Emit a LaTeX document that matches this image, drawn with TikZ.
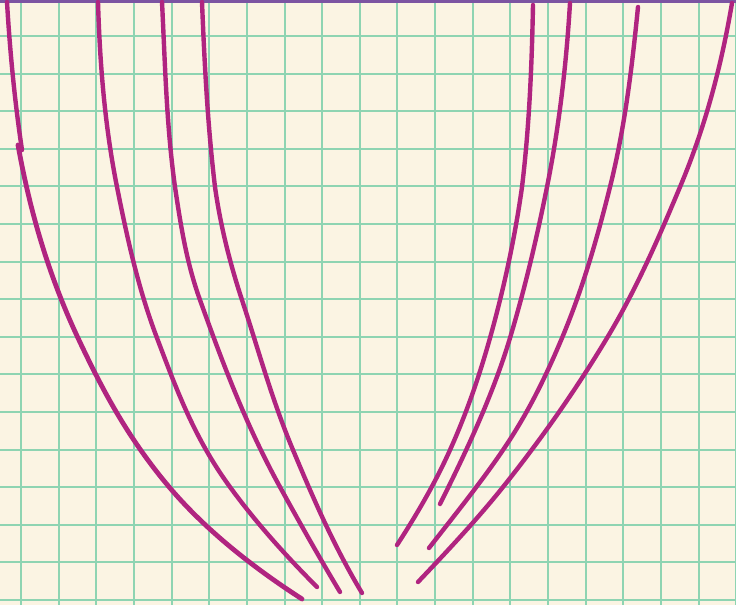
\documentclass[tikz,border=0pt]{standalone}
\definecolor{paper}{HTML}{FBF4E3}
\definecolor{gridgreen}{HTML}{8ED4B2}
\definecolor{ink}{HTML}{B02480}
\definecolor{topline}{HTML}{7C54A2}
\tikzset{
  gridline/.style={draw=gridgreen, line width=2pt},
  curve/.style={draw=ink, line width=4.4pt, line cap=round, line join=round},
}
\begin{document}
\begin{tikzpicture}[x=1pt,y=-1pt]
\useasboundingbox (0,0) rectangle (736,605);
\fill[paper] (0,0) rectangle (736,605);
% grid
\foreach \k in {0,...,19} {
  \pgfmathsetmacro{\gx}{round(21+37.65*\k)}
  \draw[gridline] (\gx,0) -- (\gx,605);
}
\foreach \k in {0,...,15} {
  \pgfmathsetmacro{\gy}{round(36+37.6*\k)}
  \draw[gridline] (0,\gy) -- (736,\gy);
}
% top border
\draw[topline, line width=4pt] (0,1) -- (736,1);
% left curves
\draw[curve] (7,2) .. controls (9.96,51.33) and (14.6,100.67) .. (22,150);
\draw[curve, line width=4.8pt] (18,145) .. controls (29.6,209.3) and (47.8,273.7) .. (78,338)
  .. controls (101.5,388) and (127.5,438) .. (170,488)
  .. controls (201.5,525) and (244.6,562) .. (302,599);
\draw[curve] (98,2) .. controls (99.85,63.67) and (104.7,125.3) .. (117,187)
  .. controls (127.1,237.3) and (137.9,287.7) .. (157,338)
  .. controls (175.9,387.7) and (193.7,437.3) .. (230,487)
  .. controls (254.3,520.3) and (283.7,553.7) .. (317,587);
\draw[curve] (162,2) .. controls (165.1,63.67) and (166.4,125.3) .. (175,187)
  .. controls (180.65,224.67) and (186.4,262.3) .. (200,300)
  .. controls (222.4,362.3) and (245.7,424.7) .. (280,487)
  .. controls (299.25,522) and (319,557) .. (340,592);
\draw[curve] (202,2) .. controls (204.5,63.67) and (207.6,125.3) .. (215,187)
  .. controls (220.3,224.67) and (229.6,262.3) .. (242,300)
  .. controls (258.5,350) and (272,400) .. (293,450)
  .. controls (313,497.67) and (333.4,545.3) .. (362,593);
% right curves
\draw[curve] (533,5) .. controls (531.8,65.67) and (529.3,126.3) .. (522,187)
  .. controls (514.95,237.3) and (504.1,287.7) .. (490,338)
  .. controls (479.5,375.3) and (466.8,412.7) .. (450,450)
  .. controls (435.75,481.67) and (417.6,513.3) .. (397,545);
\draw[curve] (570,3) .. controls (566.3,64.33) and (559.3,125.67) .. (547,187)
  .. controls (536.9,237.3) and (525.1,287.7) .. (510,338)
  .. controls (493.4,393.3) and (467.7,448.7) .. (440,504);
\draw[curve] (638,7) .. controls (632,67) and (625,127) .. (610,187)
  .. controls (597.4,237.3) and (583.1,287.7) .. (562,338)
  .. controls (546.3,375.3) and (528.4,412.7) .. (503,450)
  .. controls (480.8,482.67) and (454.5,515.3) .. (429,548);
\draw[curve] (732,3) .. controls (721.6,64.33) and (705.8,125.67) .. (680,187)
  .. controls (658.9,237.3) and (637.2,287.7) .. (607,338)
  .. controls (577.2,387.67) and (542.7,437.3) .. (503,487)
  .. controls (477.7,518.67) and (448.1,550.3) .. (418,582);
\end{tikzpicture}
\end{document}
